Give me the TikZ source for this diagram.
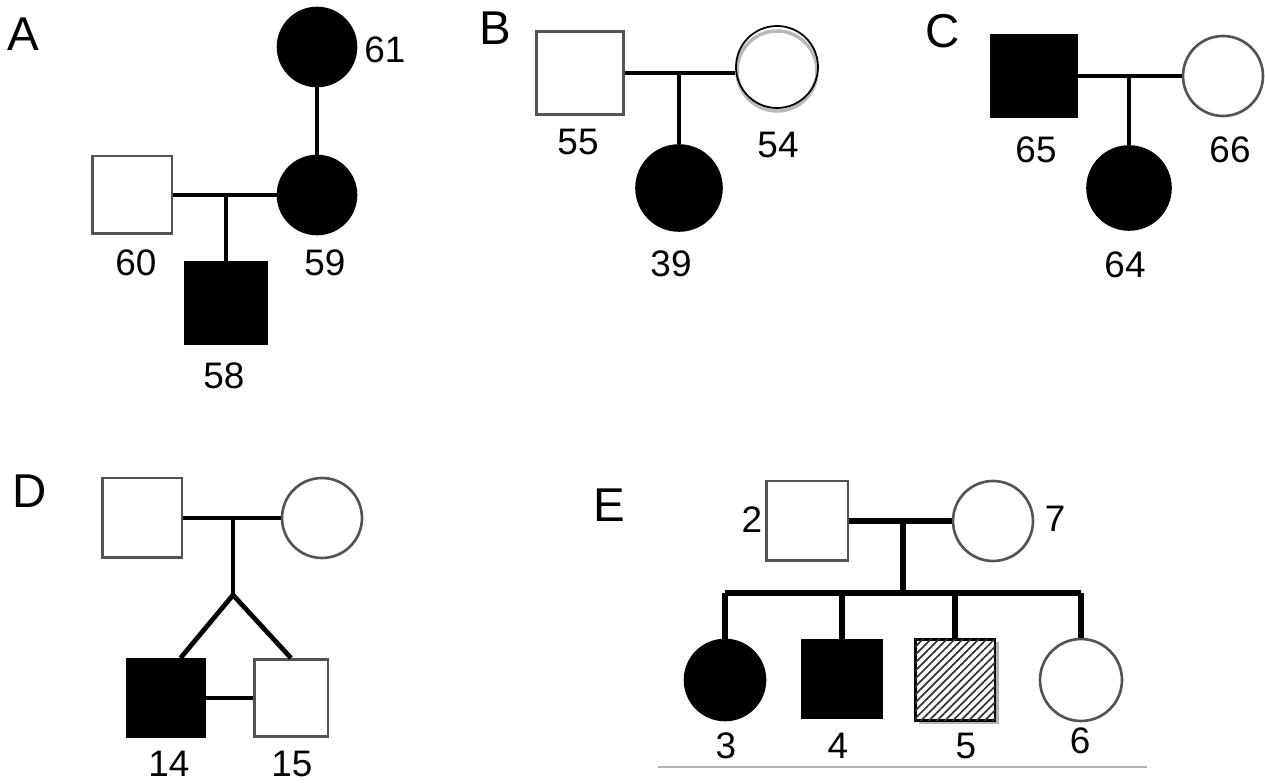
\documentclass[tikz,border=0pt]{standalone}
\usepackage{fontspec}
\setmainfont{Liberation Sans}
\usetikzlibrary{patterns.meta,shadows}

\tikzset{
  male/.style={rectangle, draw=gray!65!black, line width=1.7pt, fill=white, inner sep=0pt, minimum size=1.6cm},
  female/.style={circle, draw=gray!65!black, line width=1.5pt, fill=white, inner sep=0pt, minimum size=1.6cm},
  affected/.style={fill=black, draw=black},
  hatched/.style={draw=black, line width=1.7pt, fill=white,
    drop shadow={shadow xshift=2.5pt, shadow yshift=-1.5pt, fill=gray!60, opacity=1},
    postaction={pattern={Lines[angle=45, distance=3.2pt, line width=1pt]}, pattern color=black!80}},
  link/.style={line width=2.7pt, black},
  idlabel/.style={inner sep=0pt, font=\fontsize{21}{24}\selectfont},
  panel/.style={inner sep=0pt, font=\fontsize{27}{30}\selectfont},
}

\begin{document}
\begin{tikzpicture}[x=0.02cm, y=-0.02cm]
\useasboundingbox (0,0) rectangle (1265,783);

%panel A
\node[panel] (A) at (23,34) {A};
\node[female, affected, minimum size=1.56cm] (p61) at (317,47) {};
\node[female, affected, minimum size=1.56cm] (p59) at (317,195) {};
\node[male, minimum width=1.6cm, minimum height=1.56cm] (p60) at (132,195) {};
\node[male, affected, minimum size=1.62cm] (p58) at (226,303) {};
\draw[link] (p61) -- (p59);
\draw[link] (p60) -- (p59);
\draw[link] (p58) -- (p58 |- p59);
\node[idlabel] (l61) at (385,50) {61};
\node[idlabel] (l60) at (136,263) {60};
\node[idlabel] (l59) at (325,263) {59};
\node[idlabel] (l58) at (224,376) {58};

%panel B
\node[panel] (B) at (495,28) {B};
\draw[gray!55, line width=2pt] (777,71) circle[radius=0.8cm];
\node[male, minimum width=1.74cm, minimum height=1.66cm] (p55) at (580,73) {};
\node[female, draw=black, line width=1pt, fill=none, minimum size=1.64cm] (p54) at (777,67) {};
\node[female, affected, minimum size=1.7cm] (p39) at (679,188) {};
\draw[link] (p55) -- (p55 -| p54.west);
\draw[link] (p39) -- (p39 |- p55);
\node[idlabel] (l55) at (578,142) {55};
\node[idlabel] (l54) at (778,145) {54};
\node[idlabel] (l39) at (671,264) {39};

%panel C
\node[panel] (C) at (943,31) {C};
\node[male, affected, minimum width=1.7cm, minimum height=1.64cm] (p65) at (1034,76) {};
\node[female, minimum size=1.6cm] (p66) at (1223,76) {};
\node[female, affected, minimum size=1.66cm] (p64) at (1129,188) {};
\draw[link] (p65) -- (p66);
\draw[link] (p64) -- (p64 |- p65);
\node[idlabel] (l65) at (1036,150) {65};
\node[idlabel] (l66) at (1230,150) {66};
\node[idlabel] (l64) at (1125,265) {64};

%panel D
\node[panel] (D) at (30,491) {D};
\node[male, minimum size=1.6cm] (pDf) at (142,518) {};
\node[female, minimum size=1.6cm] (pDm) at (322,518) {};
\node[male, affected, minimum size=1.54cm] (p14) at (166,698) {};
\node[male, minimum width=1.48cm, minimum height=1.54cm] (p15) at (291,698) {};
\coordinate (tw) at (233,595);
\draw[link] (pDf) -- (pDm);
\draw[link] (tw) -- (tw |- pDf);
\draw[link] (p14.70) -- (tw) -- (p15.north);
\draw[link] (p14) -- (p15);
\node[idlabel] (l14) at (169,764) {14};
\node[idlabel] (l15) at (292,764) {15};

%panel E
\node[panel] (E) at (609,505) {E};
\node[male, minimum width=1.64cm, minimum height=1.6cm] (p2) at (807,521) {};
\node[female, minimum size=1.6cm] (p7) at (993,521) {};
\node[female, affected, minimum size=1.6cm] (p3) at (725,680) {};
\node[male, affected, minimum width=1.6cm, minimum height=1.54cm] (p4) at (842,679) {};
\node[hatched, minimum width=1.6cm, minimum height=1.64cm] (p5) at (955,680) {};
\node[female, minimum size=1.64cm] (p6) at (1081,680) {};
\coordinate (sib) at (903,593);
\draw[link, line width=3.2pt] (p2) -- (p7);
\draw[link, line width=3.2pt] (sib) -- (sib |- p2);
\draw[link, line width=3.2pt] (p3 |- sib) -- (p6 |- sib);
\foreach \c in {p3,p4,p5,p6}
\draw[link, line width=3.2pt] (\c) -- (\c |- sib);
\node[idlabel] (l2) at (752,520) {2};
\node[idlabel] (l7) at (1055,519) {7};
\node[idlabel] (l3) at (726,746) {3};
\node[idlabel] (l4) at (838,746) {4};
\node[idlabel] (l5) at (966,746) {5};
\node[idlabel] (l6) at (1080,741) {6};

%bottom rule
\draw[gray!60, line width=1.2pt] (658,767) -- (1147,767);
\end{tikzpicture}
\end{document}
